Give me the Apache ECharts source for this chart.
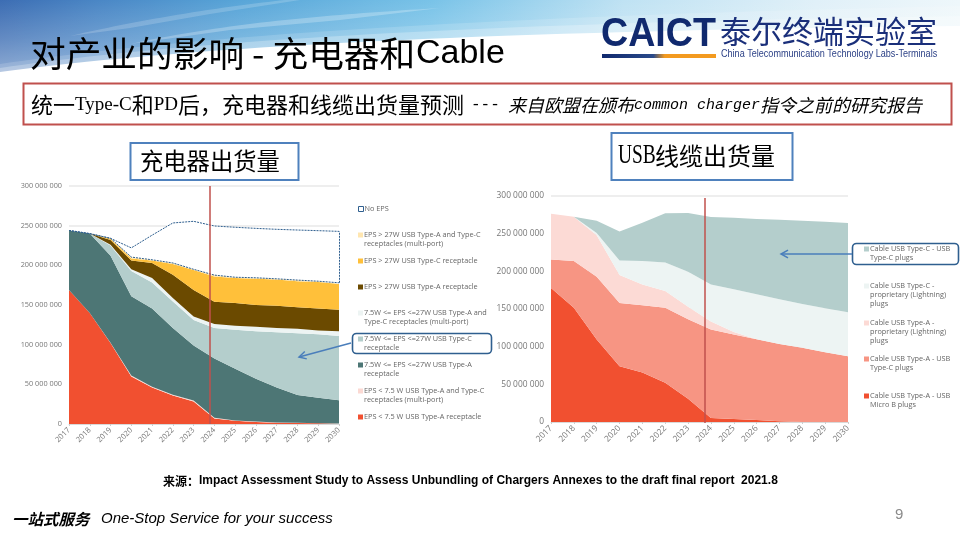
<!DOCTYPE html>
<html>
<head>
<meta charset="utf-8">
<style>html,body{margin:0;padding:0;background:#fff}#chart{width:960px;height:540px}</style>
<script src="https://cdn.jsdelivr.net/npm/echarts@6/dist/echarts.min.js"></script>
</head>
<body>
<div id="chart"></div>
<script>
// values in millions of units
const years = ['2017','2018','2019','2020','2021','2022','2023','2024','2025','2026','2027','2028','2029','2030'];
const yTicks = [0, 50, 100, 150, 200, 250, 300];

// left chart: chargers
const epsLowA     = [169,140,102,60,46,36,28.5,7,4,2.5,1.7,1.2,0.8,0.4];
const epsLowMulti = [0,0,0.5,1,1,1,1,1,0.5,0.5,0.3,0.3,0.2,0.2];
const epsMidA     = [75,100,109.5,100,98.6,84,69.5,74.5,65,54,44,35,32,29.4];
const epsMidC     = [0,0,13,32,32.9,33.5,32,38.5,49.2,60,69.7,78,80,81];
const epsMidMulti = [0,0,1,2,5.5,4.2,4.5,5,5.3,5.5,5.3,5.5,5,6];
const epsHighA    = [0,0,6,11,19,29.3,33.5,28,28.4,27.5,28,27.3,27.6,27];
const epsHighC    = [0,0,1.5,2.7,3,13.6,25,32,31.6,33,33,32.7,33.4,32.5];
const epsHighMulti= [0,0,0.5,1.7,1,1.4,1,1.7,1,1.3,1,1.4,1,1.5];
const noEps       = [0,0,0,11.6,31,50.4,60.5,61.9,63,62.3,62.4,63.1,63.7,64.8];

// right chart: cables
const cableAMicroB = [178,151.5,109.5,74,65.6,52,31,5.3,4,2.7,0.9,0,0,0];
const cableAC      = [37.8,62.1,83.2,84,89.4,99.5,105.5,117.4,112,107.3,102.8,98.4,92.6,87.3];
const cableALight  = [60.7,58.9,55.3,37,27.5,22.5,16.5,10.7,3.6,0,0,0,0,0];
const cableCLight  = [0,0,3,19.4,31.1,37.8,46.4,49.1,56.7,59.7,59.3,58.4,58.4,58.5];
const cableCC      = [0,0,16,38.6,50.9,65.2,78,89.5,94.7,99.7,105.5,110.2,114.8,118.2];

const chargerBands = [
  { name: 'EPS < 7.5 W USB Type-A receptacle', data: epsLowA, color: '#f15030', legendY: 417 },
  { name: 'EPS < 7.5 W USB Type-A and Type-C\nreceptacles (multi-port)', data: epsLowMulti, color: '#fbd9d3', legendY: 391 },
  { name: '7.5W <= EPS <=27W USB Type-A\nreceptacle', data: epsMidA, color: '#4d7675', legendY: 365 },
  { name: '7.5W <= EPS <=27W USB Type-C\nreceptacle', data: epsMidC, color: '#b4cecc', legendY: 339 },
  { name: '7.5W <= EPS <=27W USB Type-A and\nType-C receptacles (multi-port)', data: epsMidMulti, color: '#edf4f3', legendY: 313 },
  { name: 'EPS > 27W USB Type-A receptacle', data: epsHighA, color: '#6b4a00', legendY: 287 },
  { name: 'EPS > 27W USB Type-C receptacle', data: epsHighC, color: '#ffc03a', legendY: 261 },
  { name: 'EPS > 27W USB Type-A and Type-C\nreceptacles (multi-port)', data: epsHighMulti, color: '#ffe6b0', legendY: 235 },
  { name: 'No EPS', data: noEps, color: '#ffffff', legendY: 209 }
];
const cableBands = [
  { name: 'Cable USB Type-A - USB\nMicro B plugs', data: cableAMicroB, color: '#f15030', legendY: 396 },
  { name: 'Cable USB Type-A - USB\nType-C plugs', data: cableAC, color: '#f79583', legendY: 359 },
  { name: 'Cable USB Type-A -\nproprietary (Lightning)\nplugs', data: cableALight, color: '#fcdad5', legendY: 323 },
  { name: 'Cable USB Type-C -\nproprietary (Lightning)\nplugs', data: cableCLight, color: '#edf4f3', legendY: 286 },
  { name: 'Cable USB Type-C - USB\nType-C plugs', data: cableCC, color: '#b4cecc', legendY: 249 }
];

const outline = '#2f5f8f';
const sansCJK = '"Noto Sans CJK SC"';

function cumulative(bands, idx) {
  return bands.reduce((sum, b) => sum + b.data[idx], 0);
}

function makeSeries(bands, gridIndex, stack) {
  return bands.map((b) => ({
    type: 'line',
    name: b.name,
    stack: stack,
    xAxisIndex: gridIndex,
    yAxisIndex: gridIndex,
    data: b.data,
    showSymbol: false,
    silent: true,
    lineStyle: { width: 0 },
    itemStyle: { color: b.color },
    areaStyle: { color: b.color, opacity: 1 }
  }));
}

function makeLegends(bands, left, textShift) {
  return bands.map((b) => {
    const lines = b.name.split('\n').length;
    return {
      data: [b.name === 'No EPS'
        ? { name: b.name, itemStyle: { color: '#fff', borderColor: outline, borderWidth: 1 } }
        : { name: b.name }],
      left: left,
      top: b.legendY - (2 * lines - 1) * 4.5,
      padding: 0,
      icon: 'rect',
      itemWidth: 5,
      itemHeight: 5,
      itemGap: 0,
      selectedMode: false,
      // blank lines above keep the marker level with the first text line
      formatter: (name) => '\n'.repeat(lines - 1) + name,
      textStyle: { fontFamily: 'Open Sans', fontSize: 7.3, lineHeight: 9, color: '#666', padding: [0, 0, 0, textShift] }
    };
  });
}

function makeXAxis(gridIndex, fontSize) {
  return {
    type: 'category',
    gridIndex: gridIndex,
    data: years,
    boundaryGap: false,
    axisLine: { lineStyle: { color: '#d9d9d9' } },
    axisTick: { show: true, length: 2, lineStyle: { color: '#ccc' } },
    axisLabel: { interval: 0, rotate: 45, margin: 5, fontSize: fontSize, color: '#777', fontFamily: 'Open Sans' }
  };
}

function makeYAxis(gridIndex, fontSize, margin) {
  return {
    type: 'value',
    gridIndex: gridIndex,
    min: yTicks[0],
    max: yTicks[yTicks.length - 1],
    interval: yTicks[1],
    axisLine: { show: false },
    axisTick: { show: false },
    splitLine: { lineStyle: { color: '#e8e8e8', width: 1.5 } },
    axisLabel: {
      margin: margin,
      fontSize: fontSize,
      color: '#777',
      fontFamily: 'Open Sans',
      formatter: (v) => (v === 0 ? '0' : v + ' 000 000')
    }
  };
}

const chargerSeries = makeSeries(chargerBands, 0, 'chargers');
const cableSeries = makeSeries(cableBands, 1, 'cables');

// dashed outline of the No EPS region
const last = years.length - 1;
chargerSeries[7].lineStyle = { width: 1, type: [2, 1], color: outline };
chargerSeries[8].lineStyle = { width: 1, type: [2, 1], color: outline };
chargerSeries[8].markLine = {
  silent: true,
  symbol: 'none',
  label: { show: false },
  lineStyle: { width: 1, type: [2, 1], color: outline },
  data: [[
    { xAxis: years[last], yAxis: cumulative(chargerBands.slice(0, 8), last) },
    { xAxis: years[last], yAxis: cumulative(chargerBands, last) }
  ]]
};

function boxRect(x, y, w, h, stroke, lineWidth, r) {
  return {
    type: 'rect', z: 100,
    shape: { x: x, y: y, width: w, height: h, r: r || 0 },
    style: { fill: 'transparent', stroke: stroke, lineWidth: lineWidth }
  };
}

function label(x, y, text, font, fill, extra, scaleX) {
  return {
    type: 'text', z: 101, x: x, y: y, scaleX: scaleX || 1,
    style: Object.assign({ text: text, font: font, fill: fill || '#000', verticalAlign: 'middle' }, extra || {})
  };
}

function arrow(x1, y1, x2, y2, color) {
  const a = Math.atan2(y2 - y1, x2 - x1);
  const s = 8;
  return [
    { type: 'line', z: 100, shape: { x1: x1, y1: y1, x2: x2, y2: y2 }, style: { stroke: color, lineWidth: 1.5 } },
    {
      type: 'polyline', z: 100,
      shape: { points: [
        [x2 - s * Math.cos(a - 0.5), y2 - s * Math.sin(a - 0.5)],
        [x2, y2],
        [x2 - s * Math.cos(a + 0.5), y2 - s * Math.sin(a + 0.5)]
      ] },
      style: { stroke: color, lineWidth: 1.5, fill: 'transparent' }
    }
  ];
}

// sweep shape for the slide header: a cubic curve closed along the given corners
function sweep(p0, p1, p2, p3, corners, opacity) {
  const points = [];
  for (let i = 0; i <= 40; i++) {
    const t = i / 40, u = 1 - t;
    points.push([
      u*u*u*p0[0] + 3*u*u*t*p1[0] + 3*u*t*t*p2[0] + t*t*t*p3[0],
      u*u*u*p0[1] + 3*u*u*t*p1[1] + 3*u*t*t*p2[1] + t*t*t*p3[1]
    ]);
  }
  return { type: 'polygon', z: -9, shape: { points: points.concat(corners) }, style: { fill: '#ffffff', opacity: opacity } };
}

const slideBackground = [
  {
    type: 'rect', z: -10, shape: { x: 0, y: 0, width: 960, height: 85 },
    style: { fill: new echarts.graphic.LinearGradient(0, 0, 1, 0, [
      { offset: 0, color: '#3c6db3' },
      { offset: 0.1, color: '#4a86c5' },
      { offset: 0.25, color: '#58a5d8' },
      { offset: 0.45, color: '#79c3e8' },
      { offset: 0.65, color: '#bfe2f3' },
      { offset: 0.85, color: '#e0f0f8' },
      { offset: 1, color: '#eef7fb' }
    ]) }
  },
  {
    type: 'rect', z: -9, shape: { x: 0, y: 0, width: 960, height: 85 },
    style: { fill: new echarts.graphic.LinearGradient(0, 0, 0, 1, [
      { offset: 0, color: 'rgba(255,255,255,0)' },
      { offset: 0.45, color: 'rgba(255,255,255,0.2)' },
      { offset: 1, color: 'rgba(255,255,255,0.5)' }
    ]) }
  },
  // pale streaks
  sweep([70, 36], [130, 22], [210, 8], [285, 0], [[300, 0], [210, 14], [130, 28]], 0.18),
  sweep([130, 44], [230, 22], [340, 14], [440, 8], [[340, 20], [230, 30]], 0.25),
  // white area under the title, with a soft upper edge
  sweep([0, 64], [150, 42], [400, 18], [960, 6], [[960, 90], [0, 90]], 0.15),
  sweep([0, 68], [150, 46], [400, 24], [960, 16], [[960, 90], [0, 90]], 0.25),
  sweep([0, 72], [150, 52], [400, 32], [960, 26], [[960, 90], [0, 90]], 1)
];

const slideText = [
  // title and logo
  label(30, 53, '对产业的影响 - 充电器和', '35.7px ' + sansCJK),
  label(416, 54, 'Cable', '34px "Liberation Sans"'),
  label(601, 35, 'CAICT', 'bold 40px "Liberation Sans"', '#10296e', null, 0.94),
  {
    type: 'rect', z: 100, shape: { x: 602, y: 54, width: 114, height: 4 },
    style: { fill: new echarts.graphic.LinearGradient(0, 0, 1, 0, [
      { offset: 0, color: '#10296e' }, { offset: 0.45, color: '#2a4a8a' },
      { offset: 0.55, color: '#f39a1f' }, { offset: 1, color: '#f39a1f' }
    ]) }
  },
  label(720, 31, '泰尔终端实验室', '31px ' + sansCJK, '#1a2f7a'),
  label(721, 54, 'China Telecommunication Technology Labs-Terminals', '10.2px "Liberation Sans"', '#2a3f85', null, 0.89),

  // banner
  boxRect(23.5, 83.5, 928, 41, '#c0504d', 2),
  label(31, 105, '{c|统一}{m|Type-C}{c|和}{m|PD}{c|后，充电器和线缆出货量预测}', '22px ' + sansCJK, '#000', {
    rich: {
      c: { font: '22px ' + sansCJK, fill: '#000' },
      m: { font: '19px "Liberation Serif"', fill: '#000' }
    }
  }),
  label(471, 105, '---', '16px "Liberation Mono"'),
  label(508, 105, '{i|来自欧盟在颁布}{im|common charger}{i|指令之前的研究报告}', '18px ' + sansCJK, '#000', {
    rich: {
      i: { font: 'italic 18px ' + sansCJK, fill: '#000' },
      im: { font: 'italic 15px "Liberation Mono"', fill: '#000' }
    }
  }),

  // chart titles
  boxRect(130.5, 143, 168, 37, '#4f81bd', 2),
  label(140, 161, '充电器出货量', '23.3px ' + sansCJK),
  boxRect(611.5, 133, 181, 47, '#4f81bd', 2),
  label(618, 156, 'USB', '27px "Liberation Serif"', '#000', null, 0.72),
  label(655, 156, '线缆出货量', '24px ' + sansCJK),

  // forecast start markers
  { type: 'line', z: 100, shape: { x1: 210, y1: 186, x2: 210, y2: 424 }, style: { stroke: '#c0504d', lineWidth: 1.5 } },
  { type: 'line', z: 100, shape: { x1: 705, y1: 198, x2: 705, y2: 423 }, style: { stroke: '#c0504d', lineWidth: 1.5 } },

  // callouts
  boxRect(352.5, 333.5, 139, 20, '#2f5f8f', 1.6, 4),
  ...arrow(351, 343, 299, 357, '#4a7ebb'),
  boxRect(852.5, 243.5, 106, 21, '#2f5f8f', 1.6, 4),
  ...arrow(852, 254, 781, 254, '#4a7ebb'),

  // footer
  label(163, 481, '{c|来源：}{e|Impact Assessment Study to Assess Unbundling of Chargers Annexes to the draft final report  2021.8}', 'bold 12px "Liberation Sans"', '#000', {
    rich: {
      c: { font: 'bold 12px ' + sansCJK, fill: '#000' },
      e: { font: 'bold 12px "Liberation Sans"', fill: '#000' }
    }
  }),
  label(12, 519, '一站式服务', 'italic bold 15.5px ' + sansCJK),
  label(101, 519, 'One-Stop Service for your success', 'italic 15px "Liberation Sans"'),
  label(895, 515, '9', '15px "Liberation Sans"', '#8a8a8a')
];

const chart = echarts.init(document.getElementById('chart'));
chart.setOption({
  animation: false,
  backgroundColor: '#ffffff',
  grid: [
    { left: 69, top: 186, width: 270, height: 238 },
    { left: 551, top: 196, width: 297, height: 226 }
  ],
  xAxis: [makeXAxis(0, 7.6), makeXAxis(1, 8.4)],
  yAxis: [makeYAxis(0, 7.3, 7), makeYAxis(1, 8.4, 7)],
  legend: [...makeLegends(chargerBands, 358, -4), ...makeLegends(cableBands, 864, -4)],
  series: [...chargerSeries, ...cableSeries],
  graphic: { elements: [...slideBackground, ...slideText] }
});
</script>
</body>
</html>
